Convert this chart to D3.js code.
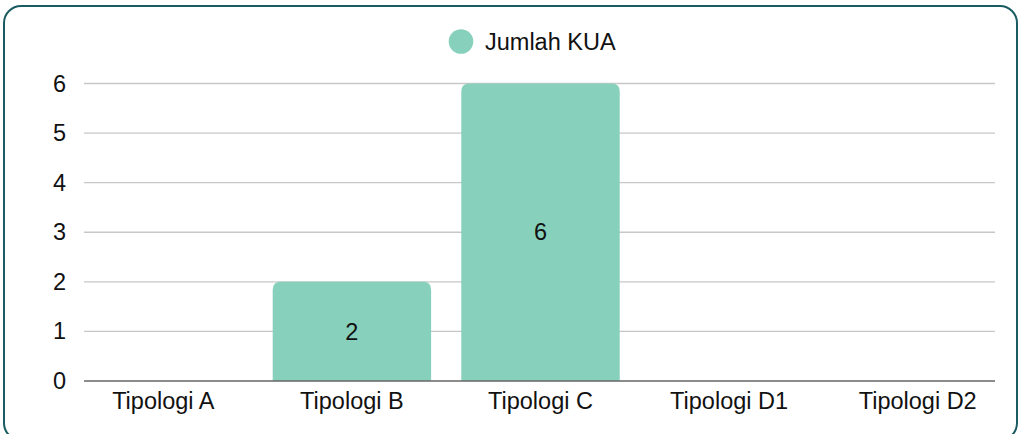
<!DOCTYPE html>
<html>
<head>
<meta charset="utf-8">
<script src="https://cdn.jsdelivr.net/npm/d3@7"></script>
<style>
  body { margin: 0; background: #fff; }
  svg text { font-family: "Liberation Sans", Arial, sans-serif; fill: #111; }
</style>
</head>
<body>
<div id="chart"></div>
<script>
var categories = ['Tipologi A', 'Tipologi B', 'Tipologi C', 'Tipologi D1', 'Tipologi D2'];
var jumlahKUA = [0, 2, 6, 0, 0];
var yTicks = [0, 1, 2, 3, 4, 5, 6];
var seriesName = 'Jumlah KUA';

var width = 1021, height = 434;
var barColor = '#87d1bc';
var fontSize = 23.5;

var svg = d3.select('#chart').append('svg')
  .attr('width', width)
  .attr('height', height);

// card frame
svg.append('rect')
  .attr('x', 4).attr('y', 6)
  .attr('width', 1013).attr('height', 434)
  .attr('rx', 17).attr('ry', 17)
  .attr('fill', '#fff')
  .attr('stroke', '#1b5c62')
  .attr('stroke-width', 2);

var plot = { left: 84, right: 995, top: 83.5, bottom: 381 };

var x = d3.scaleBand()
  .domain(categories)
  .range([69, 1012])
  .paddingInner(0.16)
  .paddingOuter(0.08);

var y = d3.scaleLinear()
  .domain([0, 6])
  .range([plot.bottom, plot.top]);

// gridlines
svg.append('g').selectAll('line')
  .data(yTicks.filter(function(d) { return d > 0; }))
  .enter().append('line')
  .attr('x1', plot.left).attr('x2', plot.right)
  .attr('y1', function(d) { return y(d); })
  .attr('y2', function(d) { return y(d); })
  .attr('stroke', '#c8c8c8')
  .attr('stroke-width', 1.3);

// y labels
var yAxis = d3.axisLeft(y).tickValues(yTicks).tickFormat(d3.format('d')).tickSize(0).tickPadding(0);
var yg = svg.append('g')
  .attr('transform', 'translate(' + 66 + ',0)')
  .call(yAxis);
yg.select('.domain').remove();
yg.selectAll('text')
  .attr('font-size', fontSize)
  .attr('font-family', '"Liberation Sans", Arial, sans-serif')
  .attr('fill', '#111');

// bars with rounded top corners
var r = 8;
function barPath(d, i) {
  var x0 = x(categories[i]), w = x.bandwidth();
  var yt = y(d), yb = y(0);
  if (d <= 0) return '';
  return 'M' + x0 + ',' + yb +
    'V' + (yt + r) +
    'Q' + x0 + ',' + yt + ' ' + (x0 + r) + ',' + yt +
    'H' + (x0 + w - r) +
    'Q' + (x0 + w) + ',' + yt + ' ' + (x0 + w) + ',' + (yt + r) +
    'V' + yb + 'Z';
}

svg.append('g').selectAll('path')
  .data(jumlahKUA)
  .enter().append('path')
  .attr('d', barPath)
  .attr('fill', barColor);

// value labels
var labelled = jumlahKUA.map(function(v, i) { return { cat: categories[i], v: v }; })
  .filter(function(d) { return d.v > 0; });

svg.append('g').selectAll('text')
  .data(labelled)
  .enter().append('text')
  .attr('x', function(d) { return x(d.cat) + x.bandwidth() / 2; })
  .attr('y', function(d) { return (y(d.v) + y(0)) / 2; })
  .attr('dy', '0.35em')
  .attr('text-anchor', 'middle')
  .attr('font-size', fontSize)
  .text(function(d) { return d.v; });

// baseline
svg.append('line')
  .attr('x1', plot.left).attr('x2', plot.right)
  .attr('y1', y(0)).attr('y2', y(0))
  .attr('stroke', '#666')
  .attr('stroke-width', 1.3);

// x labels
var xAxis = d3.axisBottom(x).tickSize(0).tickPadding(0);
var xg = svg.append('g')
  .attr('transform', 'translate(0,' + 392 + ')')
  .call(xAxis);
xg.select('.domain').remove();
xg.selectAll('text')
  .attr('font-size', fontSize)
  .attr('font-family', '"Liberation Sans", Arial, sans-serif')
  .attr('fill', '#111');

// legend
var legend = svg.append('g').attr('transform', 'translate(461,41.5)');
legend.append('circle').attr('r', 12.3).attr('fill', barColor);
legend.append('text')
  .attr('x', 24).attr('dy', '0.35em')
  .attr('font-size', fontSize)
  .text(seriesName);
</script>
</body>
</html>
